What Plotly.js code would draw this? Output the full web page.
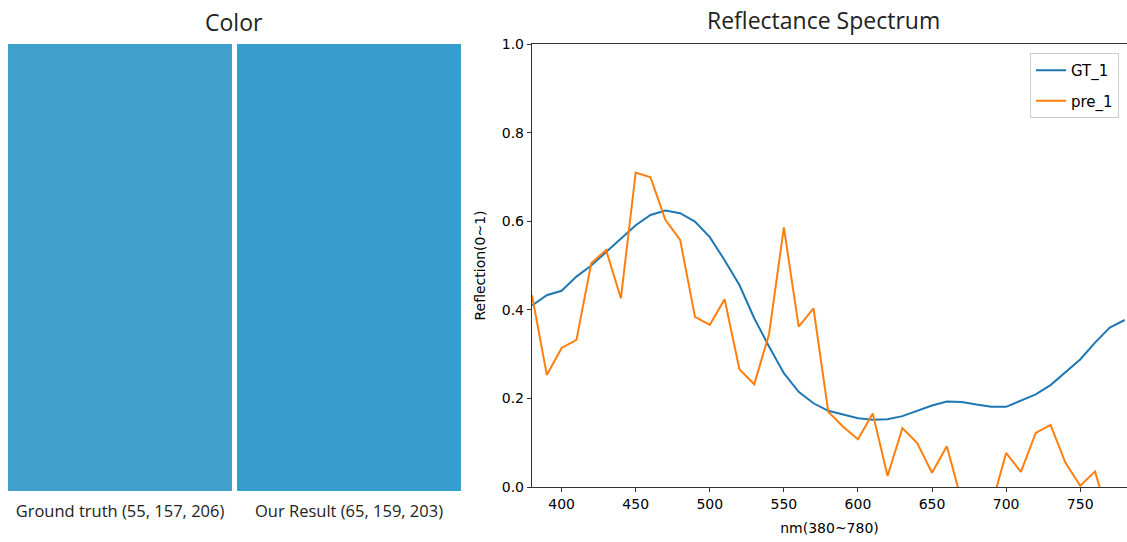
<!DOCTYPE html>
<html><head><meta charset="utf-8">
<script src="https://cdn.plot.ly/plotly-3.0.1.min.js"></script>
<style>html,body{margin:0;padding:0;background:#fff;}#plot{width:1127px;height:542px;}</style>
</head><body><div id="plot"></div>
<script>
const wavelengths = [380,390,400,410,420,430,440,450,460,470,480,490,500,510,520,530,540,550,560,570,580,590,600,610,620,630,640,650,660,670,680,690,700,710,720,730,740,750,760,770,780];
const gt1 = [0.41,0.433,0.443,0.475,0.50,0.531,0.561,0.591,0.614,0.624,0.618,0.599,0.564,0.512,0.456,0.381,0.317,0.257,0.215,0.189,0.172,0.163,0.155,0.152,0.153,0.160,0.172,0.184,0.193,0.192,0.186,0.181,0.181,0.195,0.209,0.230,0.258,0.288,0.326,0.360,0.377];
const pre1 = [0.433,0.253,0.314,0.332,0.505,0.535,0.426,0.71,0.699,0.603,0.558,0.384,0.366,0.424,0.266,0.232,0.345,0.586,0.362,0.403,0.17,0.136,0.108,0.166,0.025,0.133,0.099,0.032,0.092,-0.032,-0.08,-0.045,0.077,0.034,0.122,0.14,0.055,0.003,0.035,-0.08,-0.05];
const colorLabels = ['Ground truth (55, 157, 206)','Our Result (65, 159, 203)'];
const colorValues = [1,1];
const swatchColors = ['rgb(65,159,203)','rgb(55,157,206)'];

const W = 1127, H = 542;
const px = v => v / W, py = v => 1 - v / H;

const traces = [
  {type:'bar', x:colorLabels, y:colorValues, marker:{color:swatchColors, line:{width:0}}, xaxis:'x2', yaxis:'y2', showlegend:false, hoverinfo:'skip'},
  {type:'scatter', mode:'lines', name:'GT_1', legendgroup:'a', x:wavelengths, y:gt1, line:{color:'#1f77b4', width:2}},
  {type:'scatter', mode:'lines', name:'pre_1', legendgroup:'b', x:wavelengths, y:pre1, line:{color:'#ff7f0e', width:2}}
];

const tickFont = {family:'DejaVu Sans', size:14, color:'#000'};
const layout = {
  width:W, height:H, margin:{l:0,r:0,t:0,b:0},
  paper_bgcolor:'#fff', plot_bgcolor:'#fff',
  showlegend:true,
  xaxis:{domain:[px(532), 1], range:[380,781.6], showgrid:false, zeroline:false, showline:true, mirror:true, linecolor:'#333', linewidth:1.2,
    ticks:'outside', ticklen:4, tickcolor:'#333', tickvals:[400,450,500,550,600,650,700,750], tickfont:tickFont,
    title:{text:'nm(380~780)', font:{family:'DejaVu Sans', size:14, color:'#000'}, standoff:12}, anchor:'y'},
  yaxis:{domain:[py(487), py(44)], range:[0,1], showgrid:false, zeroline:false, showline:true, mirror:true, linecolor:'#333', linewidth:1.2,
    ticks:'outside', ticklen:4, tickcolor:'#333', tickvals:[0,0.2,0.4,0.6,0.8,1.0], tickformat:'.1f', tickfont:tickFont,
    title:{text:'Reflection(0~1)', font:{family:'DejaVu Sans', size:14, color:'#000'}, standoff:12}, anchor:'x'},
  xaxis2:{domain:[px(5.5), px(463.5)], showgrid:false, zeroline:false, showline:false, ticks:'', anchor:'y2', ticklabelstandoff:8,
    tickfont:{family:'Open Sans', size:16.5, color:'#222'}},
  yaxis2:{domain:[py(491), py(44)], range:[0,1], showgrid:false, zeroline:false, showline:false, showticklabels:false, ticks:'', anchor:'x2'},
  bargap:0.022,
  legend:{x:px(1119), xanchor:'right', y:py(53), yanchor:'top', bgcolor:'rgba(255,255,255,0.8)', bordercolor:'#ccc', borderwidth:1,
    tracegroupgap:8, font:{family:'DejaVu Sans', size:15, color:'#000'}},
  annotations:[
    {text:'Color', xref:'paper', yref:'paper', x:px(234), y:py(22), xanchor:'center', yanchor:'middle', showarrow:false,
      font:{family:'Open Sans', size:23, color:'#222'}},
    {text:'Reflectance Spectrum', xref:'paper', yref:'paper', x:px(823), y:py(20), xanchor:'center', yanchor:'middle', showarrow:false,
      font:{family:'Open Sans', size:23, color:'#222'}}
  ]
};
Plotly.newPlot('plot', traces, layout, {displayModeBar:false, staticPlot:true});
</script>
</body></html>
